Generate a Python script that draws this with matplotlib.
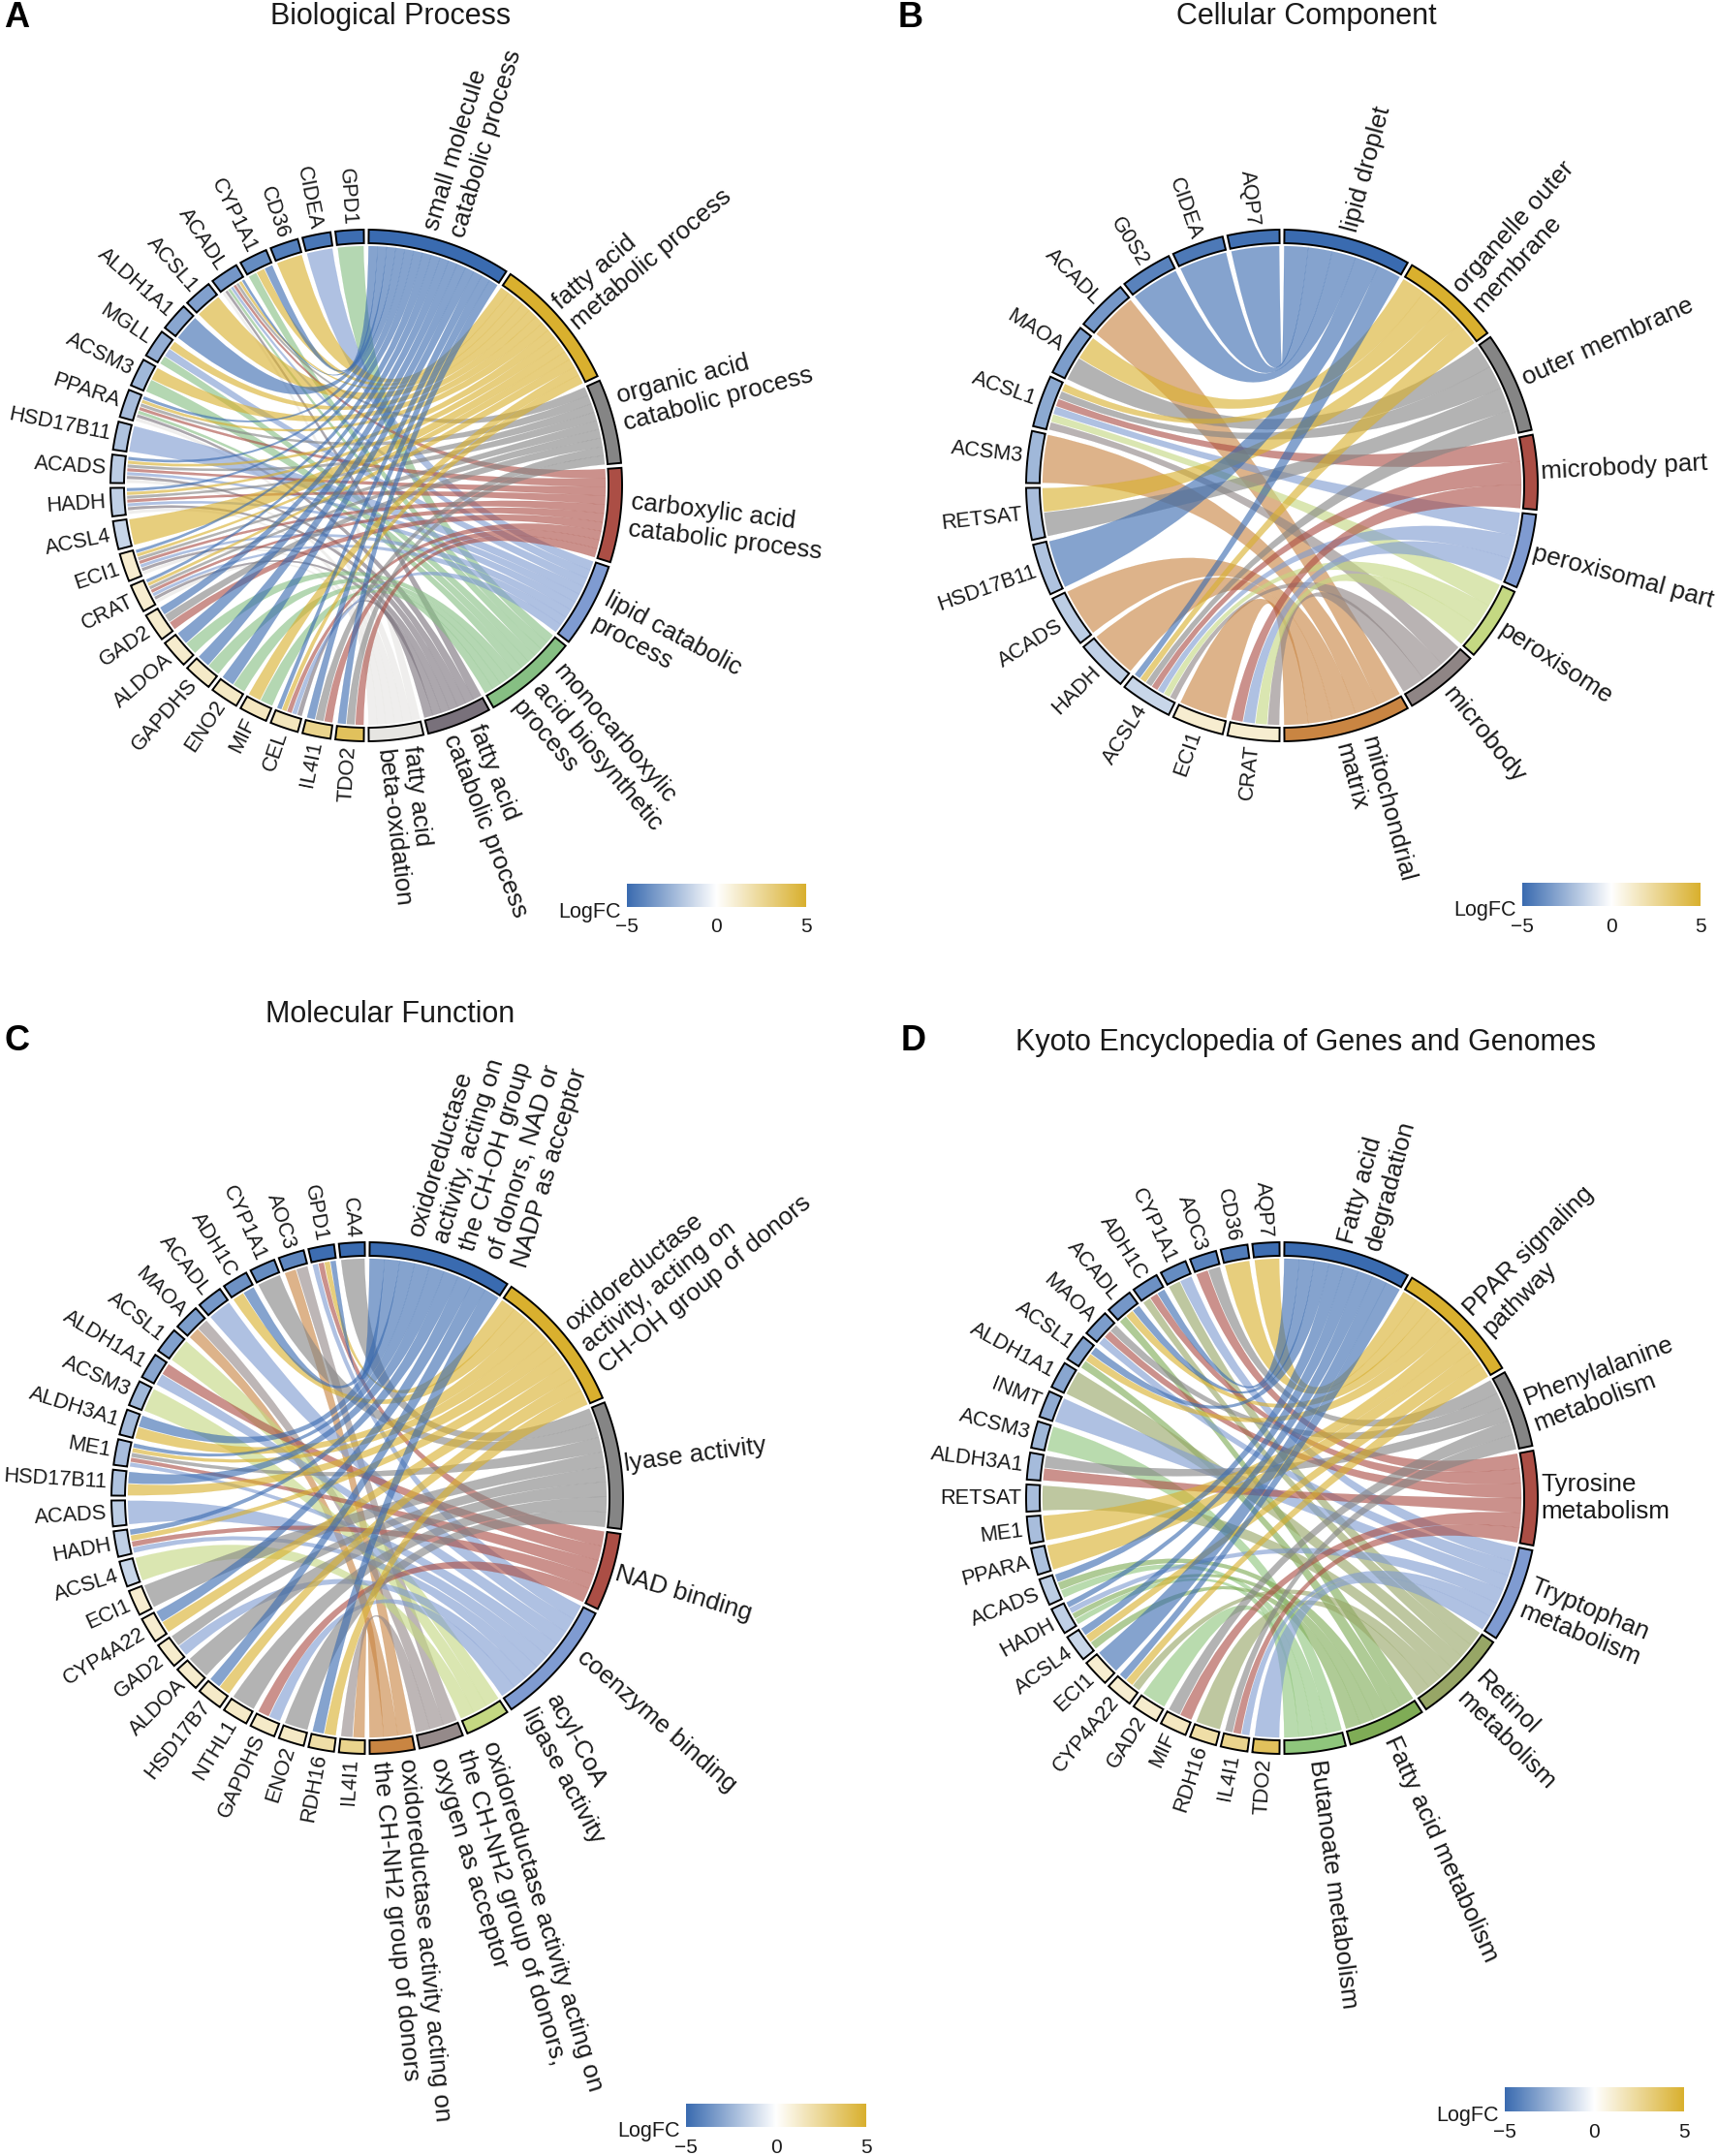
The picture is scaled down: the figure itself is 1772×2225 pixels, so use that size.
import numpy as np
import matplotlib
matplotlib.use("Agg")
import matplotlib.pyplot as plt
from matplotlib.colors import LinearSegmentedColormap
from matplotlib.patches import PathPatch
from matplotlib.path import Path

plt.rcParams['font.family'] = ['Liberation Sans', 'DejaVu Sans']

# panel A
bp_terms = ["small molecule\ncatabolic process", "fatty acid\nmetabolic process", "organic acid\ncatabolic process",
            "carboxylic acid\ncatabolic process", "lipid catabolic\nprocess", "monocarboxylic\nacid biosynthetic\nprocess",
            "fatty acid\ncatabolic process", "fatty acid\nbeta-oxidation"]
bp_genes = ["GPD1", "CIDEA", "CD36", "CYP1A1", "ACADL", "ACSL1", "ALDH1A1", "MGLL", "ACSM3", "PPARA", "HSD17B11", "ACADS",
            "HADH", "ACSL4", "ECI1", "CRAT", "GAD2", "ALDOA", "GAPDHS", "ENO2", "MIF", "CEL", "IL4I1", "TDO2"]
bp_logfc = [-4.9, -4.6, -4.3, -3.9, -3.5, -3.2, -3.0, -2.7, -2.4, -2.2, -2.0, -1.7,
            -1.6, -1.4, 1.1, 1.1, 1.2, 1.2, 1.3, 1.4, 1.5, 1.6, 2.7, 3.9]
bp_links = [[5], [4], [1], [0, 1, 5], [0, 1, 2, 3, 4, 5, 6, 7], [1], [0], [1, 4, 5], [1, 5], [0, 1, 2, 3, 5, 6, 7], [4],
            [0, 1, 2, 3, 4, 6, 7], [0, 1, 2, 3, 4, 6, 7], [1], [0, 1, 2, 3, 4, 6, 7], [0, 1, 2, 3, 4, 6, 7], [0, 2, 3],
            [0, 5], [0, 5], [0, 5], [1, 5], [0, 1, 3, 4, 6], [0, 2, 3], [0, 2, 3]]
bp_colors = ["#3A6BB0", "#D9B02E", "#858585", "#AB4E45", "#7F9BD1", "#86BF83", "#79717B", "#E6E5E2"]
bp_nudge = [(2, 0), (0, 0), (3, -10), (6, 0), (3, 2), (0, 0), (0, 0), (0, 0)]

# panel B
cc_terms = ["lipid droplet", "organelle outer\nmembrane", "outer membrane", "microbody part", "peroxisomal part",
            "peroxisome", "microbody", "mitochondrial\nmatrix"]
cc_genes = ["AQP7", "CIDEA", "G0S2", "ACADL", "MAOA", "ACSL1", "ACSM3", "RETSAT", "HSD17B11", "ACADS", "HADH", "ACSL4",
            "ECI1", "CRAT"]
cc_logfc = [-4.8, -4.5, -4.2, -3.5, -3.3, -2.9, -2.4, -2.2, -2.0, -1.7, -1.6, -1.4, 1.1, 1.1]
cc_links = [[0], [0], [0], [7], [1, 2], [1, 2, 3, 4, 5, 6], [7], [1, 2], [0], [7], [7], [0, 1, 2, 3, 4, 5, 6], [7],
            [3, 4, 5, 6]]
cc_colors = ["#3A6BB0", "#D9B02E", "#858585", "#AB4E45", "#7F9BD1", "#C4D882", "#8F8585", "#C98542"]
cc_nudge = [(0, 0), (10, 9), (3, 0), (0, 0), (0, 0), (0, 0), (0, 0), (5, 0)]

# panel C
mf_terms = ["oxidoreductase\nactivity, acting on\nthe CH-OH group\nof donors, NAD or\nNADP as acceptor",
            "oxidoreductase\nactivity, acting on\nCH-OH group of donors", "lyase activity", "NAD binding",
            "coenzyme binding", "acyl-CoA\nligase activity",
            "oxidoreductase activity acting on\nthe CH-NH2 group of donors,\noxygen as acceptor",
            "oxidoreductase activity acting on\nthe CH-NH2 group of donors"]
mf_genes = ["CA4", "GPD1", "AOC3", "CYP1A1", "ADH1C", "ACADL", "MAOA", "ACSL1", "ALDH1A1", "ACSM3", "ALDH3A1", "ME1",
            "HSD17B11", "ACADS", "HADH", "ACSL4", "ECI1", "CYP4A22", "GAD2", "ALDOA", "HSD17B7", "NTHL1", "GAPDHS",
            "ENO2", "RDH16", "IL4I1"]
mf_logfc = [-5.0, -4.9, -4.1, -3.9, -3.7, -3.5, -3.3, -3.2, -3.0, -2.4, -2.3, -2.2, -2.0, -1.7, -1.6, -1.4,
            1.1, 1.1, 1.2, 1.2, 1.3, 1.3, 1.3, 1.4, 2.1, 2.7]
mf_links = [[2], [0, 1, 3, 4], [6, 7], [2], [0, 1], [4], [6, 7], [5], [3, 4], [5], [0, 1], [0, 1, 2, 3, 4], [0, 1], [4],
            [0, 1, 3, 4], [5], [2], [0, 1], [2, 4], [2], [0, 1], [2], [3, 4], [2], [0, 1], [6, 7]]
mf_colors = ["#3A6BB0", "#D9B02E", "#858585", "#AB4E45", "#7F9BD1", "#C4D882", "#958A8A", "#C98542"]
mf_nudge = [(25, 5), (16, 16), (0, 0), (0, 0), (17, -17), (50, -28), (21, 0), (0, 0)]

# panel D
kegg_terms = ["Fatty acid\ndegradation", "PPAR signaling\npathway", "Phenylalanine\nmetabolism", "Tyrosine\nmetabolism",
              "Tryptophan\nmetabolism", "Retinol\nmetabolism", "Fatty acid metabolism", "Butanoate metabolism"]
kegg_genes = ["AQP7", "CD36", "AOC3", "CYP1A1", "ADH1C", "ACADL", "MAOA", "ACSL1", "ALDH1A1", "INMT", "ACSM3", "ALDH3A1",
              "RETSAT", "ME1", "PPARA", "ACADS", "HADH", "ACSL4", "ECI1", "CYP4A22", "GAD2", "MIF", "RDH16", "IL4I1",
              "TDO2"]
kegg_logfc = [-4.9, -4.4, -4.2, -3.9, -3.7, -3.5, -3.3, -3.2, -3.0, -2.8, -2.4, -2.3, -2.2, -2.2, -2.1, -1.7, -1.6,
              -1.4, 1.1, 1.1, 1.2, 1.5, 2.1, 2.7, 3.9]
kegg_links = [[1], [1], [2, 3], [4, 5], [0, 3, 5], [0, 1, 6], [2, 3, 4], [0, 1, 6], [5], [4], [7], [2, 3], [5], [1], [1],
              [0, 6, 7], [0, 4, 6, 7], [0, 1, 6], [0], [0, 1, 5], [7], [2, 3], [5], [2, 3, 4], [4]]
kegg_colors = ["#3A6BB0", "#D9B02E", "#858585", "#AB4E45", "#7F9BD1", "#97A666", "#7FAC56", "#8FC67C"]
kegg_nudge = [(10, 3), (10, 10), (4, 6), (0, 0), (3, 0), (3, 2), (0, 0), (0, 0)]

cmap = LinearSegmentedColormap.from_list("logfc", ["#3A6BB0", "#FFFFFF", "#D9B02E"])

R_OUT = 264
R_IN = 250
R_CHORD = 247
INSET = 0.55
SLICE = 0.12


def xy(ang, r, cx, cy):
    a = np.radians(ang)
    return cx + r * np.sin(a), cy - r * np.cos(a)


def ring(ax, cx, cy, a0, a1, color):
    t = np.linspace(a0 + INSET, a1 - INSET, 40)
    x1, y1 = xy(t, R_OUT, cx, cy)
    x2, y2 = xy(t[::-1], R_IN, cx, cy)
    ax.fill(np.r_[x1, x2], np.r_[y1, y2], facecolor=color, edgecolor="black", lw=1.4, joinstyle="miter", zorder=4)


def chord(ax, cx, cy, t0, t1, g0, g1, color):
    # term arc, curve through the centre, gene arc, curve back
    ta = np.linspace(t0, t1, 12)
    ga = np.linspace(g0, g1, 8)
    verts = [xy(a, R_CHORD, cx, cy) for a in ta]
    codes = [Path.MOVETO] + [Path.LINETO] * (len(ta) - 1)
    verts += [(cx, cy), xy(ga[0], R_CHORD, cx, cy)]
    codes += [Path.CURVE3, Path.CURVE3]
    verts += [xy(a, R_CHORD, cx, cy) for a in ga[1:]]
    codes += [Path.LINETO] * (len(ga) - 1)
    verts += [(cx, cy), xy(t0, R_CHORD, cx, cy), xy(t0, R_CHORD, cx, cy)]
    codes += [Path.CURVE3, Path.CURVE3, Path.CLOSEPOLY]
    ax.add_patch(PathPatch(Path(verts, codes), facecolor=color, edgecolor=color, lw=0.15, alpha=0.62, zorder=2))


def chord_panel(ax, cx, cy, terms, genes, logfc, links, colors, nudge):
    total = sum(len(l) for l in links)
    counts = [sum(i in l for l in links) for i in range(len(terms))]
    edges = np.r_[0, np.cumsum(counts)] * 180.0 / total
    step = 180.0 / len(genes)
    used = [0] * len(terms)
    for i, gene in enumerate(genes):
        g1 = 360 - i * step
        g0 = g1 - step
        ring(ax, cx, cy, g0, g1, cmap((logfc[i] + 5) / 10))
        mid = (g0 + g1) / 2
        x, y = xy(mid, R_OUT + 5, cx, cy)
        ax.text(x, y, gene, fontsize=15.7, rotation=270 - mid, rotation_mode="anchor", ha="right", va="center",
                color="#1a1a1a")
        # slices run clockwise through the gene from the highest term index down
        w = (g1 - g0 - 2 * INSET) / len(links[i])
        for k, term in enumerate(sorted(links[i], reverse=True)):
            a = g0 + INSET + k * w
            tw = (edges[term + 1] - edges[term] - 2 * INSET) / counts[term]
            ts = edges[term] + INSET + used[term] * tw
            used[term] += 1
            chord(ax, cx, cy, ts, ts + tw, a + SLICE, a + w - SLICE, colors[term])
    for j, term in enumerate(terms):
        ring(ax, cx, cy, edges[j], edges[j + 1], colors[j])
        mid = (edges[j] + edges[j + 1]) / 2
        off = 3 + 5 * abs(np.cos(np.radians(mid)))
        x, y = xy(mid, R_OUT + off, cx, cy)
        ax.text(x + nudge[j][0], y + nudge[j][1], term, fontsize=18.7, rotation=90 - mid, rotation_mode="anchor",
                ha="left", va="center", multialignment="left", linespacing=1.22, color="#1a1a1a")


def logfc_bar(ax, x0, x1, y0, y1):
    grad = np.linspace(-5, 5, 256).reshape(1, -1)
    ax.imshow(grad, cmap=cmap, vmin=-5, vmax=5, extent=(x0, x1, y1, y0), aspect="auto", zorder=3)
    ax.text(x0 - 6, y1 + 5, "LogFC", fontsize=15.5, ha="right", va="center", color="#1a1a1a")
    for val, lab in zip([-5, 0, 5], ["\u22125", "0", "5"]):
        ax.text(x0 + (val + 5) / 10 * (x1 - x0), y1 + 21, lab, fontsize=15, ha="center", va="center", color="#1a1a1a")


fig = plt.figure(figsize=(17.72, 22.25), dpi=100)
ax = fig.add_axes([0, 0, 1, 1])

chord_panel(ax, 378, 501, bp_terms, bp_genes, bp_logfc, bp_links, bp_colors, bp_nudge)
chord_panel(ax, 1323, 501, cc_terms, cc_genes, cc_logfc, cc_links, cc_colors, cc_nudge)
chord_panel(ax, 379, 1546, mf_terms, mf_genes, mf_logfc, mf_links, mf_colors, mf_nudge)
chord_panel(ax, 1323, 1546, kegg_terms, kegg_genes, kegg_logfc, kegg_links, kegg_colors, kegg_nudge)

logfc_bar(ax, 647, 832, 912, 936)
logfc_bar(ax, 1571, 1755, 911, 935)
logfc_bar(ax, 708, 894, 2171, 2195)
logfc_bar(ax, 1553, 1738, 2154, 2179)

ax.text(403, 17, "Biological Process", fontsize=22, ha="center", va="center", color="#1a1a1a")
ax.text(1348, 17, "Cellular Component", fontsize=22, ha="center", va="center", color="#1a1a1a")
ax.text(403, 1047, "Molecular Function", fontsize=22, ha="center", va="center", color="#1a1a1a")
ax.text(1348, 1076, "Kyoto Encyclopedia of Genes and Genomes", fontsize=22, ha="center", va="center", color="#1a1a1a")

ax.text(17, 19, "A", fontsize=26, fontweight="bold", ha="center", va="center")
ax.text(940, 19, "B", fontsize=26, fontweight="bold", ha="center", va="center")
ax.text(18, 1074, "C", fontsize=26, fontweight="bold", ha="center", va="center")
ax.text(943, 1074, "D", fontsize=26, fontweight="bold", ha="center", va="center")

ax.set_xlim(0, 1772)
ax.set_ylim(2225, 0)
ax.axis("off")
fig.savefig("out.png", dpi=100)
